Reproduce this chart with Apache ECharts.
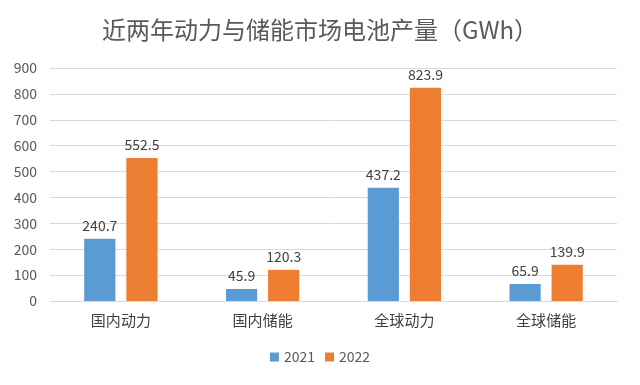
<!DOCTYPE html>
<html>
<head>
<meta charset="utf-8">
<script src="https://cdn.jsdelivr.net/npm/echarts@6/dist/echarts.min.js"></script>
<style>html,body{margin:0;padding:0;background:#fff}#c{width:640px;height:385px}</style>
</head>
<body>
<div id="c"></div>
<script>
const categories = ['国内动力', '国内储能', '全球动力', '全球储能'];
const series2021 = [240.7, 45.9, 437.2, 65.9];
const series2022 = [552.5, 120.3, 823.9, 139.9];
const seriesNames = ['2021', '2022'];
const yTicks = [0, 100, 200, 300, 400, 500, 600, 700, 800, 900];

const font = '"Noto Sans CJK SC", "Noto Sans", sans-serif';
const chart = echarts.init(document.getElementById('c'), null, {renderer: 'canvas'});
const labelStyle = {show: true, position: 'top', distance: 6, color: '#404040', fontSize: 14, fontFamily: font};
chart.setOption({
  animation: false,
  backgroundColor: '#fff',
  title: {
    text: '近两年动力与储能市场电池产量（GWh）',
    left: 'center', top: 13,
    textStyle: {fontSize: 24, fontWeight: 'normal', color: '#595959', fontFamily: font}
  },
  legend: {
    data: seriesNames, bottom: 16, left: 'center',
    itemWidth: 9, itemHeight: 9, itemGap: 10, icon: 'rect',
    textStyle: {fontSize: 14, color: '#595959', fontFamily: font}
  },
  grid: {left: 50, right: 23, top: 68, bottom: 84},
  xAxis: {
    type: 'category', data: categories,
    axisLine: {lineStyle: {color: '#d9d9d9'}},
    axisTick: {show: false},
    axisLabel: {fontSize: 15, color: '#404040', margin: 12, fontFamily: font}
  },
  yAxis: {
    type: 'value', min: yTicks[0], max: yTicks[yTicks.length - 1], interval: 100,
    axisLine: {show: false}, axisTick: {show: false},
    axisLabel: {fontSize: 14, color: '#595959', margin: 13, fontFamily: font},
    splitLine: {lineStyle: {color: '#d9d9d9'}}
  },
  series: [
    {name: seriesNames[0], type: 'bar', data: series2021, barWidth: '22%', barGap: '35%',
     itemStyle: {color: '#5B9BD5'}, label: labelStyle},
    {name: seriesNames[1], type: 'bar', data: series2022, barWidth: '22%',
     itemStyle: {color: '#ED7D31'}, label: labelStyle}
  ]
});
</script>
</body>
</html>
